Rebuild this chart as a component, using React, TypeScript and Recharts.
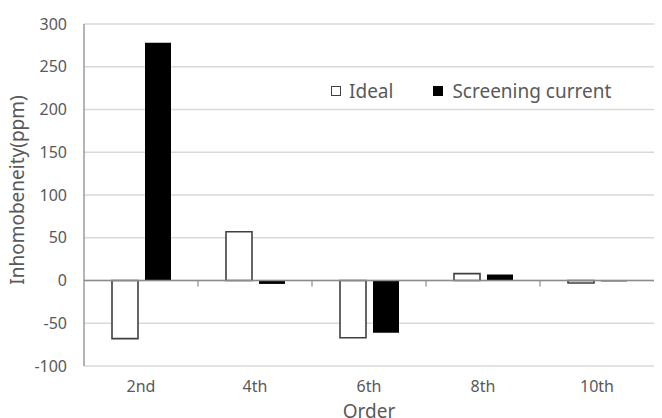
import React from 'react';
import { BarChart, Bar, XAxis, YAxis, CartesianGrid, ReferenceLine, Legend } from 'recharts';

const orders = ['2nd', '4th', '6th', '8th', '10th'];
const ideal = [-68, 57, -67, 8, -3];
const screeningCurrent = [278, -4, -61, 7, -1];
const yTicks = [-100, -50, 0, 50, 100, 150, 200, 250, 300];

const data = orders.map((order, i) => ({
  order,
  ideal: ideal[i],
  screening: screeningCurrent[i],
}));

const FONT = '"Noto Sans", "Open Sans", sans-serif';
const TEXT = '#595959';

// Zero baseline with small tick marks at the category boundaries
const ZeroLine = (props: any) => {
  const { x1, y1, x2, y2 } = props;
  const n = orders.length;
  const step = (x2 - x1) / n;
  const marks = [];
  for (let i = 1; i < n; i++) {
    const x = x1 + step * i;
    marks.push(<line key={i} x1={x} x2={x} y1={y1} y2={y1 + 6} stroke="#8c8c8c" strokeWidth={1.2} />);
  }
  return (
    <g>
      <line x1={x1} y1={y1} x2={x2} y2={y2} stroke="#8c8c8c" strokeWidth={1.3} />
      {marks}
    </g>
  );
};

const LegendContent = () => (
  <div style={{ display: 'flex', alignItems: 'center', fontFamily: FONT, fontSize: 19, color: TEXT, whiteSpace: 'nowrap' }}>
    <span style={{ display: 'inline-block', width: 8, height: 8, border: '1.5px solid #404040', background: '#fff', marginRight: 8 }} />
    <span>Ideal</span>
    <span style={{ display: 'inline-block', width: 10, height: 10, background: '#000', marginLeft: 40, marginRight: 9 }} />
    <span>Screening current</span>
  </div>
);

const YTitle = (props: any) => {
  const { viewBox } = props;
  const cy = viewBox.y + viewBox.height / 2 - 5;
  return (
    <text x={17} y={cy} transform={`rotate(-90, 17, ${cy})`} textAnchor="middle" dominantBaseline="central" fill={TEXT} fontFamily={FONT} fontSize={19}>
      Inhomobeneity(ppm)
    </text>
  );
};

export default function App() {
  return (
    <div style={{ position: 'absolute', left: 0, top: 0, background: '#fff' }}>
      <BarChart
        width={662}
        height={418}
        data={data}
        margin={{ top: 24, right: 8, bottom: 0, left: 0 }}
        barSize={26}
        barGap={7}
      >
        <CartesianGrid vertical={false} stroke="#d9d9d9" strokeWidth={1.5} />
        <XAxis
          dataKey="order"
          axisLine={false}
          tickLine={false}
          height={52}
          tickSize={6}
          tickMargin={9}
          tick={{ fill: TEXT, fontSize: 16, fontFamily: FONT }}
          interval={0}
          label={{ value: 'Order', position: 'insideBottom', offset: 0, fill: TEXT, fontSize: 19, fontFamily: FONT }}
        />
        <YAxis
          width={84}
          domain={[-100, 300]}
          ticks={yTicks}
          interval={0}
          axisLine={{ stroke: '#8c8c8c', strokeWidth: 1.3 }}
          tickLine={false}
          tickSize={6}
          tickMargin={11}
          tick={{ fill: TEXT, fontSize: 16, fontFamily: FONT }}
          label={<YTitle />}
        />
        <ReferenceLine y={0} shape={<ZeroLine />} />
        <Legend
          content={<LegendContent />}
          wrapperStyle={{ left: 331, top: 78, width: 'auto', height: 0, overflow: 'visible' }}
        />
        <Bar dataKey="ideal" name="Ideal" fill="#ffffff" stroke="#404040" strokeWidth={1.6} isAnimationActive={false} />
        <Bar dataKey="screening" name="Screening current" fill="#000000" isAnimationActive={false} />
      </BarChart>
    </div>
  );
}
